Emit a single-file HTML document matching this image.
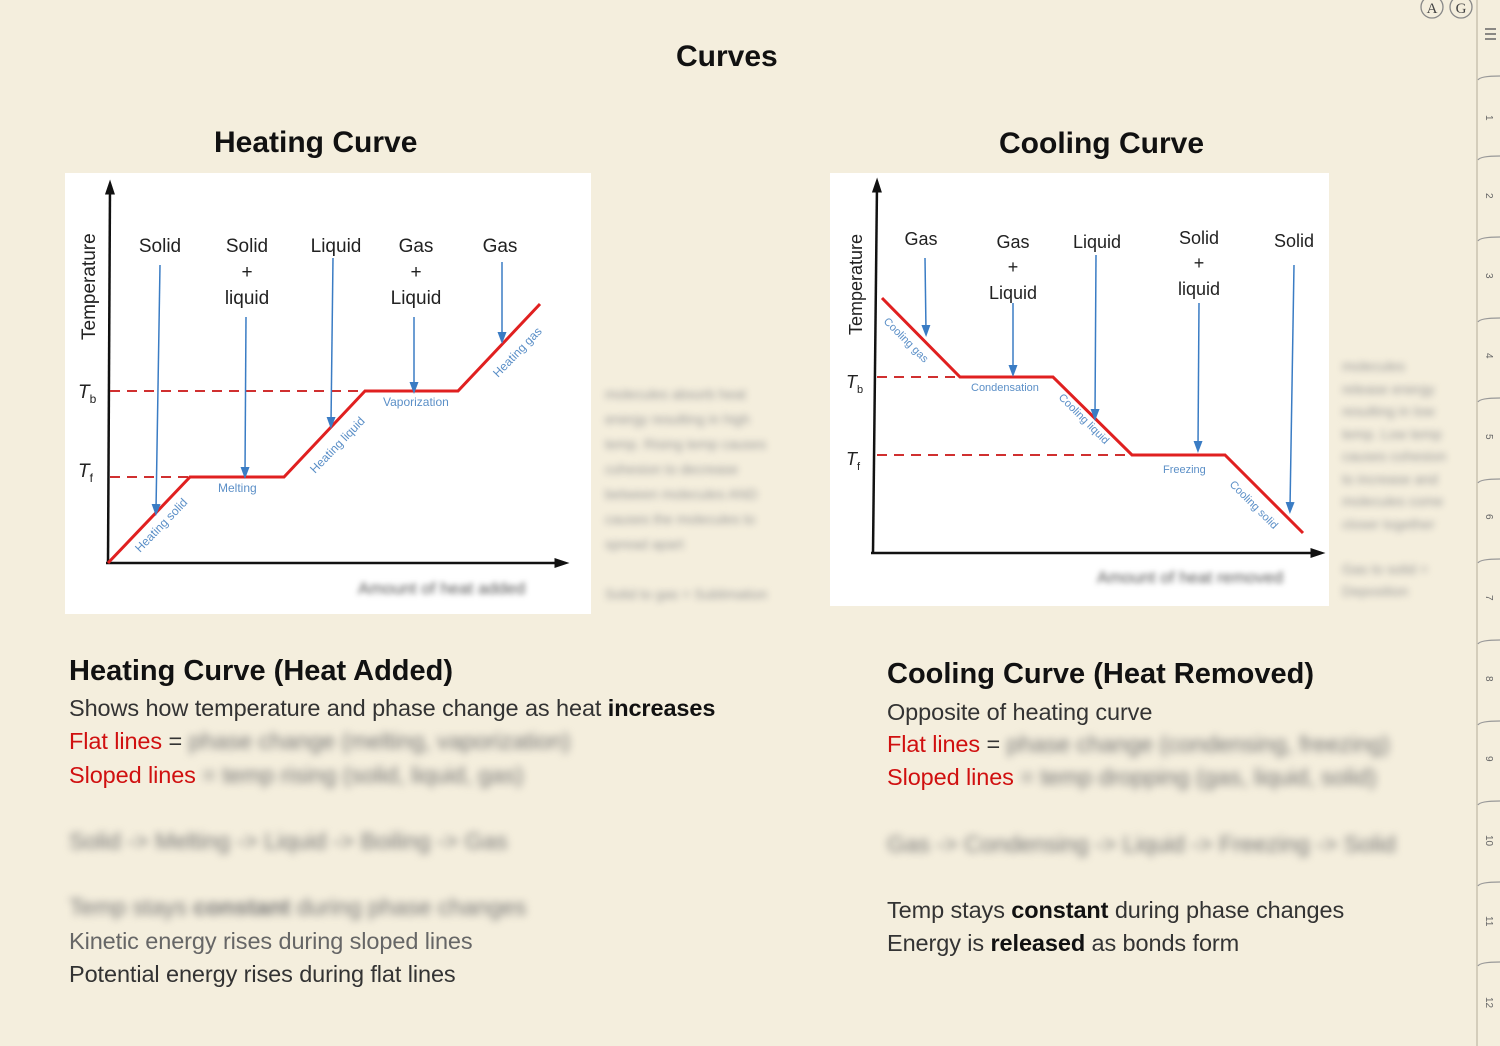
<!DOCTYPE html>
<html><head><meta charset="utf-8"><style>
body{margin:0;width:1500px;height:1046px;background:#f4eedd;position:relative;overflow:hidden;font-family:"Liberation Sans",sans-serif;}
.a{position:absolute;white-space:nowrap}
.h{font-weight:bold;color:#111}
.t{font-size:23.5px;color:#333;letter-spacing:-0.1px}
.r{color:#d01010;font-weight:normal}
.bl{filter:blur(4px);color:#777}
.bl2{filter:blur(3.5px);color:#999;font-size:14px;line-height:25px}
</style></head><body>
<div class="a h" style="left:676px;top:40px;font-size:30px">Curves</div>
<div class="a h" style="left:214px;top:126px;font-size:30px">Heating Curve</div>
<div class="a h" style="left:999px;top:127px;font-size:30px">Cooling Curve</div>

<svg class="a" style="left:0;top:0" width="1500" height="1046">
<defs><marker id="ar" markerWidth="8" markerHeight="8" refX="4" refY="4" orient="auto"><path d="M0,1 L8,4 L0,7z" fill="#3a7cc4"/></marker>
<marker id="ak" markerWidth="6" markerHeight="6" refX="3" refY="3" orient="auto"><path d="M0,1 L6,3 L0,5z" fill="#111"/></marker></defs>
<rect x="65" y="173" width="526" height="441" fill="#fff"/>
<rect x="830" y="173" width="499" height="433" fill="#fff"/>
<g font-family="Liberation Sans,sans-serif">
<line x1="108" y1="563" x2="110" y2="187" stroke="#111" stroke-width="2.5" marker-end="url(#ak)"/>
<line x1="106" y1="563" x2="562" y2="563" stroke="#111" stroke-width="2.5" marker-end="url(#ak)"/>
<line x1="110" y1="391" x2="365" y2="391" stroke="#d03030" stroke-width="2" stroke-dasharray="10,7"/>
<line x1="110" y1="477" x2="190" y2="477" stroke="#d03030" stroke-width="2" stroke-dasharray="10,7"/>
<polyline points="108,563 190,477 284,477 365,391 458,391 540,304" fill="none" stroke="#e02020" stroke-width="3"/>
<text x="95" y="340" transform="rotate(-90 95 340)" font-size="19" fill="#222">Temperature</text>
<text x="78" y="398" font-size="19" font-style="italic" fill="#222">T<tspan font-size="12" dy="5" font-style="normal">b</tspan></text>
<text x="78" y="477" font-size="19" font-style="italic" fill="#222">T<tspan font-size="12" dy="5" font-style="normal">f</tspan></text>
<g font-size="19" fill="#222" text-anchor="middle">
<text x="160" y="252">Solid</text><text x="247" y="252">Solid</text><text x="247" y="278">+</text><text x="247" y="304">liquid</text>
<text x="336" y="252">Liquid</text><text x="416" y="252">Gas</text><text x="416" y="278">+</text><text x="416" y="304">Liquid</text><text x="500" y="252">Gas</text></g>
<g stroke="#3a7cc4" stroke-width="1.5">
<line x1="160" y1="265" x2="156" y2="510" marker-end="url(#ar)"/>
<line x1="246" y1="317" x2="245" y2="473" marker-end="url(#ar)"/>
<line x1="333" y1="258" x2="331" y2="423" marker-end="url(#ar)"/>
<line x1="414" y1="317" x2="414" y2="388" marker-end="url(#ar)"/>
<line x1="502" y1="262" x2="502" y2="338" marker-end="url(#ar)"/></g>
<g font-size="12" fill="#5b8fc7">
<text x="140" y="553" transform="rotate(-46 140 553)">Heating solid</text>
<text x="218" y="492">Melting</text>
<text x="315" y="474" transform="rotate(-46 315 474)">Heating liquid</text>
<text x="383" y="406">Vaporization</text>
<text x="498" y="378" transform="rotate(-46 498 378)">Heating gas</text></g>
<text x="358" y="594" font-size="17" fill="#555" style="filter:blur(3px)">Amount of heat added</text>
<line x1="873" y1="553" x2="877" y2="185" stroke="#111" stroke-width="2.5" marker-end="url(#ak)"/>
<line x1="871" y1="553" x2="1318" y2="553" stroke="#111" stroke-width="2.5" marker-end="url(#ak)"/>
<line x1="877" y1="377" x2="960" y2="377" stroke="#d03030" stroke-width="2" stroke-dasharray="10,7"/>
<line x1="877" y1="455" x2="1132" y2="455" stroke="#d03030" stroke-width="2" stroke-dasharray="10,7"/>
<polyline points="882,298 960,377 1053,377 1132,455 1225,455 1303,533" fill="none" stroke="#e02020" stroke-width="3"/>
<text x="862" y="335" transform="rotate(-90 862 335)" font-size="18" fill="#222">Temperature</text>
<text x="846" y="388" font-size="18" font-style="italic" fill="#222">T<tspan font-size="11" dy="5" font-style="normal">b</tspan></text>
<text x="846" y="465" font-size="18" font-style="italic" fill="#222">T<tspan font-size="11" dy="5" font-style="normal">f</tspan></text>
<g font-size="18" fill="#222" text-anchor="middle">
<text x="921" y="245">Gas</text><text x="1013" y="248">Gas</text><text x="1013" y="273">+</text><text x="1013" y="299">Liquid</text>
<text x="1097" y="248">Liquid</text><text x="1199" y="244">Solid</text><text x="1199" y="269">+</text><text x="1199" y="295">liquid</text><text x="1294" y="247">Solid</text></g>
<g stroke="#3a7cc4" stroke-width="1.5">
<line x1="925" y1="258" x2="926" y2="331" marker-end="url(#ar)"/>
<line x1="1013" y1="303" x2="1013" y2="371" marker-end="url(#ar)"/>
<line x1="1096" y1="255" x2="1095" y2="415" marker-end="url(#ar)"/>
<line x1="1199" y1="303" x2="1198" y2="447" marker-end="url(#ar)"/>
<line x1="1294" y1="265" x2="1290" y2="508" marker-end="url(#ar)"/></g>
<g font-size="11" fill="#5b8fc7">
<text x="883" y="322" transform="rotate(45 883 322)">Cooling gas</text>
<text x="971" y="391">Condensation</text>
<text x="1058" y="398" transform="rotate(45 1058 398)">Cooling liquid</text>
<text x="1163" y="473">Freezing</text>
<text x="1229" y="485" transform="rotate(45 1229 485)">Cooling solid</text></g>
<text x="1097" y="583" font-size="17" fill="#555" style="filter:blur(3px)">Amount of heat removed</text>
</g>
<line x1="1477" y1="0" x2="1477" y2="1046" stroke="#c9c2b0" stroke-width="1.5"/>
<g fill="none" stroke="#888" stroke-width="1.3"><circle cx="1432" cy="7" r="11"/><circle cx="1461" cy="7" r="11"/></g>
<g font-size="15" fill="#444" text-anchor="middle" font-family="Liberation Serif,serif"><text x="1432" y="13">A</text><text x="1461" y="13">G</text></g>
<g stroke="#666" stroke-width="1.5"><line x1="1485" y1="29" x2="1496" y2="29"/><line x1="1485" y1="34" x2="1496" y2="34"/><line x1="1485" y1="39" x2="1496" y2="39"/></g>
<g fill="none" stroke="#999" stroke-width="1.3">
<path d="M1478,80 Q1480,76 1500,76"/><path d="M1478,160 Q1480,156 1500,156"/><path d="M1478,241 Q1480,237 1500,237"/><path d="M1478,322 Q1480,318 1500,318"/><path d="M1478,402 Q1480,398 1500,398"/><path d="M1478,483 Q1480,479 1500,479"/><path d="M1478,563 Q1480,559 1500,559"/><path d="M1478,644 Q1480,640 1500,640"/><path d="M1478,725 Q1480,721 1500,721"/><path d="M1478,805 Q1480,801 1500,801"/><path d="M1478,886 Q1480,882 1500,882"/><path d="M1478,966 Q1480,962 1500,962"/></g>
<g font-size="10" fill="#666">
<text x="1486" y="115" transform="rotate(90 1486 115)">1</text><text x="1486" y="193" transform="rotate(90 1486 193)">2</text><text x="1486" y="273" transform="rotate(90 1486 273)">3</text><text x="1486" y="353" transform="rotate(90 1486 353)">4</text><text x="1486" y="434" transform="rotate(90 1486 434)">5</text><text x="1486" y="514" transform="rotate(90 1486 514)">6</text><text x="1486" y="595" transform="rotate(90 1486 595)">7</text><text x="1486" y="676" transform="rotate(90 1486 676)">8</text><text x="1486" y="756" transform="rotate(90 1486 756)">9</text><text x="1486" y="835" transform="rotate(90 1486 835)">10</text><text x="1486" y="916" transform="rotate(90 1486 916)">11</text><text x="1486" y="997" transform="rotate(90 1486 997)">12</text></g>
</svg>

<div class="a bl2" style="left:605px;top:382px">molecules absorb heat<br>energy resulting in high<br>temp. Rising temp causes<br>cohesion to decrease<br>between molecules AND<br>causes the molecules to<br>spread apart<br><br>Solid to gas = Sublimation</div>
<div class="a bl2" style="left:1342px;top:355px;line-height:22.5px">molecules<br>release energy<br>resulting in low<br>temp. Low temp<br>causes cohesion<br>to increase and<br>molecules come<br>closer together<br><br>Gas to solid =<br>Deposition</div>

<div class="a h" style="left:69px;top:655px;font-size:29px">Heating Curve (Heat Added)</div>
<div class="a t" style="left:69px;top:695px">Shows how temperature and phase change as heat <b style="color:#111">increases</b></div>
<div class="a t" style="left:69px;top:728px"><span class="r">Flat lines</span> = <span class="bl">phase change (melting, vaporization)</span></div>
<div class="a t" style="left:69px;top:762px"><span class="r">Sloped lines</span> <span class="bl">= temp rising (solid, liquid, gas)</span></div>
<div class="a t bl" style="left:69px;top:828px">Solid -&gt; Melting -&gt; Liquid -&gt; Boiling -&gt; Gas</div>
<div class="a t bl" style="left:69px;top:894px">Temp stays <b>constant</b> during phase changes</div>
<div class="a t" style="left:69px;top:928px;color:#666">Kinetic energy rises during sloped lines</div>
<div class="a t" style="left:69px;top:961px">Potential energy rises during flat lines</div>

<div class="a h" style="left:887px;top:658px;font-size:29px">Cooling Curve (Heat Removed)</div>
<div class="a t" style="left:887px;top:699px">Opposite of heating curve</div>
<div class="a t" style="left:887px;top:731px"><span class="r">Flat lines</span> = <span class="bl">phase change (condensing, freezing)</span></div>
<div class="a t" style="left:887px;top:764px"><span class="r">Sloped lines</span> <span class="bl">= temp dropping (gas, liquid, solid)</span></div>
<div class="a t bl" style="left:887px;top:831px">Gas -&gt; Condensing -&gt; Liquid -&gt; Freezing -&gt; Solid</div>
<div class="a t" style="left:887px;top:897px">Temp stays <b style="color:#111">constant</b> during phase changes</div>
<div class="a t" style="left:887px;top:930px">Energy is <b style="color:#111">released</b> as bonds form</div>
</body></html>
